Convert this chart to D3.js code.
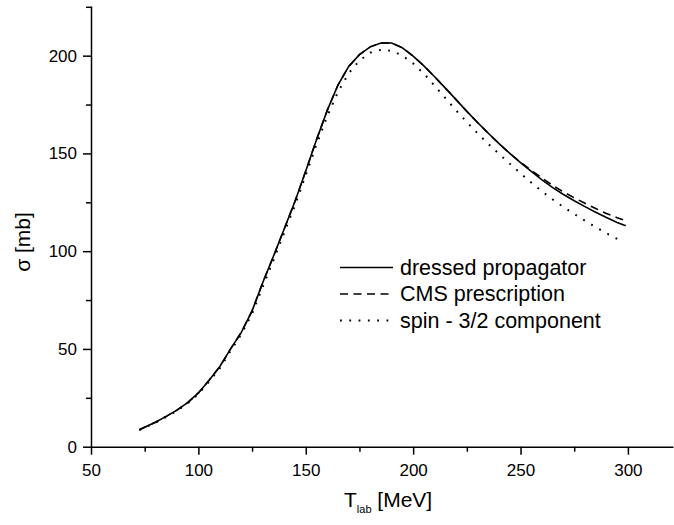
<!DOCTYPE html>
<html>
<head>
<meta charset="utf-8">
<script src="https://cdn.jsdelivr.net/npm/d3@7"></script>
<style>
  body { margin: 0; background: #fff; }
  svg { display: block; font-family: "Liberation Sans", Arial, Helvetica, sans-serif; }
  .axis path, .axis line { stroke: #000; stroke-width: 1.5; }
  .axis text { font-size: 17px; fill: #000; }
</style>
</head>
<body>
<svg id="chart" width="674" height="525"></svg>
<script>
// T_lab [MeV] sample points
const tDressed = [72.5, 80, 85, 90, 95, 100, 105, 110, 115, 120, 125, 130, 135, 140, 145, 150,
    155, 160, 165, 170, 175, 180, 185, 190, 195, 200, 205, 210, 215, 220, 225, 230, 235, 240,
    245, 250, 255, 260, 265, 270, 275, 280, 285, 290, 295, 299];
const sigmaDressed = [8.7, 12.5, 15.5, 18.7, 22.5, 27.5, 34, 41, 50, 58.5, 69.5, 84, 97.5, 111.5,
    125.5, 141, 157, 172, 185, 194.5, 200.5, 204.5, 206.5, 206.5, 204, 199.8, 194.8, 189.2, 183.4, 177.5,
    171.5, 165.8, 160.3, 155, 150, 145.3, 140.8, 136.5, 132.5, 129, 125.8, 122.8, 119.9, 117.2, 114.7, 113];

const tCMS = tDressed;
const sigmaCMS = [8.7, 12.5, 15.5, 18.7, 22.5, 27.5, 34, 41, 50, 58.5, 69.5, 84, 97.5, 111.5,
    125.5, 141, 157, 172, 185, 194.5, 200.5, 204.5, 206.5, 206.5, 204, 199.8, 194.8, 189.2, 183.4, 177.5,
    171.5, 165.8, 160.3, 155, 150, 145.5, 141.4, 137.4, 133.6, 130.3, 127.3, 124.5, 121.8, 119.3, 117.1, 115.6];

const tSpin = [72.5, 80, 85, 90, 95, 100, 105, 110, 115, 120, 125, 130, 135, 140, 145, 150,
    155, 160, 165, 170, 175, 180, 185, 190, 195, 200, 205, 210, 215, 220, 225, 230, 235, 240,
    245, 250, 255, 260, 265, 270, 275, 280, 285, 290, 295, 297];
const sigmaSpin = [8.5, 12.3, 15.2, 18.4, 22.2, 27, 33.3, 40.2, 49, 57.5, 68, 82, 95.5, 109.5,
    123.5, 139, 154.5, 169, 181.5, 191, 197.5, 201.5, 203, 202.5, 200, 196, 190.8, 184.6, 178.3, 172,
    166, 160.3, 154.9, 149.7, 144.7, 139.8, 135.1, 130.6, 126.4, 122.6, 119, 115.6, 112.3, 109.2, 106.3, 105.2];

const seriesNames = ["dressed propagator", "CMS prescription", "spin - 3/2 component"];
const xMajor = [50, 100, 150, 200, 250, 300];
const xMinor = [75, 125, 175, 225, 275];
const yMajor = [0, 50, 100, 150, 200];
const yMinor = [25, 75, 125, 175, 225];

const svg = d3.select("#chart");

const x = d3.scaleLinear().domain([50, 321]).range([91, 673]);
const y = d3.scaleLinear().domain([0, 225.4]).range([446.7, 6]);

// minor ticks first, then major axes on top
svg.append("g").attr("class", "axis")
    .attr("transform", `translate(0,${y(0)})`)
    .call(d3.axisBottom(x).tickValues(xMinor).tickSize(5).tickFormat(""))
    .select(".domain").remove();
svg.append("g").attr("class", "axis")
    .attr("transform", `translate(${x(50)},0)`)
    .call(d3.axisLeft(y).tickValues(yMinor).tickSize(5).tickFormat(""))
    .select(".domain").remove();

svg.append("g").attr("class", "axis")
    .attr("transform", `translate(0,${y(0)})`)
    .call(d3.axisBottom(x).tickValues(xMajor).tickSize(8).tickSizeOuter(0).tickPadding(9));
svg.append("g").attr("class", "axis")
    .attr("transform", `translate(${x(50)},0)`)
    .call(d3.axisLeft(y).tickValues(yMajor).tickSize(8).tickSizeOuter(0).tickPadding(6));

const line = d3.line()
    .x(d => x(d[0]))
    .y(d => y(d[1]));

const series = [
    { pts: d3.zip(tDressed, sigmaDressed), dash: null, width: 1.6 },
    { pts: d3.zip(tCMS, sigmaCMS), dash: "8,5.5", width: 1.6 },
    { pts: d3.zip(tSpin, sigmaSpin), dash: "1.8,7.5", width: 2 }
];

svg.append("g").selectAll("path")
    .data(series)
    .join("path")
    .attr("d", d => line(d.pts))
    .attr("fill", "none")
    .attr("stroke", "#000")
    .attr("stroke-width", d => d.width)
    .attr("stroke-dasharray", d => d.dash);

// legend
const legend = svg.append("g");
series.forEach((s, i) => {
    const ly = 267.5 + i * 26.5;
    legend.append("line")
        .attr("x1", 340).attr("x2", 393)
        .attr("y1", ly).attr("y2", ly)
        .attr("stroke", "#000")
        .attr("stroke-width", s.width)
        .attr("stroke-dasharray", s.dash);
    legend.append("text")
        .attr("x", 400)
        .attr("y", ly + 7)
        .attr("font-size", 21.5)
        .text(seriesNames[i]);
});

// axis titles
const xt = svg.append("text")
    .attr("x", 344)
    .attr("y", 507)
    .attr("font-size", 21);
xt.append("tspan").text("T");
xt.append("tspan").attr("font-size", 11).attr("dy", 6).text("lab");
xt.append("tspan").attr("dy", -6).text(" [MeV]");

svg.append("text")
    .attr("transform", "translate(30,242) rotate(-90)")
    .attr("text-anchor", "middle")
    .attr("font-size", 21)
    .text("σ [mb]");
</script>
</body>
</html>
